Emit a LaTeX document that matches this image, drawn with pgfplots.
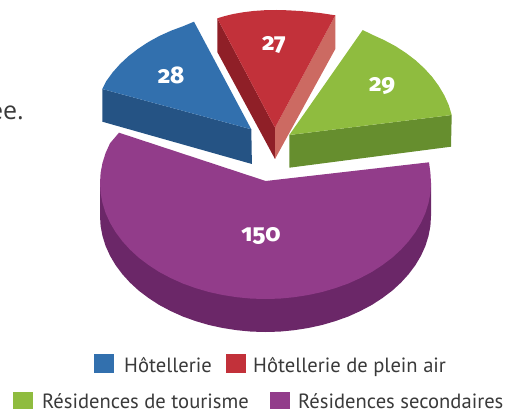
\documentclass[border=0pt]{standalone}
\usepackage{pgfplots}
\pgfplotsset{compat=1.18}
\usepackage{fontspec}
\setmainfont{PT Sans}
\newfontfamily\numfont[Numbers=OldStyle]{Fira Sans ExtraBold}
\newfontfamily\introfont{Open Sans}
\definecolor{blueT}{HTML}{3270AE}
\definecolor{blueD}{HTML}{255384}
\definecolor{redT}{HTML}{C2313A}
\definecolor{redD}{HTML}{8F1F27}
\definecolor{redL}{HTML}{CC6A62}
\definecolor{greenT}{HTML}{8FBC3F}
\definecolor{greenD}{HTML}{668E2E}
\definecolor{purpT}{HTML}{923C8A}
\definecolor{purpD}{HTML}{6B2768}
\definecolor{txt}{HTML}{3A3A3A}
\begin{document}
\begin{tikzpicture}
\useasboundingbox (0,0) rectangle (509pt,409pt);
\begin{axis}[at={(0,0)},anchor=south west,scale only axis,width=509pt,height=409pt,
  xmin=0,xmax=509,ymin=0,ymax=409,y dir=reverse,hide axis,clip=false]
% purple side
\addplot[fill=purpD,draw=none] coordinates {(100,183)(100,216)(100.6,226.1)(102.5,236)(105.6,246)(110,255.7)(115.5,265)(122.2,274)(129.9,282.5)(138.7,290.6)(148.5,298)(159.1,304.9)(170.6,311)(182.8,316.5)(195.6,321.1)(208.9,325)(222.7,328)(236.8,330.2)(251.1,331.6)(265.5,332)(279.9,331.6)(294.2,330.2)(308.3,328)(322.1,325)(335.4,321.1)(348.3,316.5)(360.4,311)(371.9,304.9)(382.5,298)(392.3,290.6)(401.1,282.5)(408.8,274)(415.5,265)(421,255.7)(425.4,246)(428.5,236)(430.4,226.1)(431,216)(431,183)} -- cycle;
% purple top
\addplot[fill=purpT,draw=none] coordinates {(265.7,181)(119,132.7)(110,143.3)(105.6,153)(102.5,162.9)(100.6,172.9)(100,183)(100.6,193.1)(102.5,203)(105.6,213)(110,222.7)(115.5,232)(122.2,241)(129.9,249.5)(138.7,257.6)(148.5,265)(159.1,271.9)(170.6,278)(182.8,283.5)(195.6,288.1)(208.9,292)(222.7,295)(236.8,297.2)(251.1,298.6)(265.5,299)(279.9,298.6)(294.2,297.2)(308.3,295)(322.1,292)(335.4,288.1)(348.3,283.5)(360.4,278)(371.9,271.9)(382.5,265)(392.3,257.6)(401.1,249.5)(408.8,241)(415.5,232)(421,222.7)(425.4,213)(428.5,203)(430.4,193.1)(431,183)(430.4,172.9)(429,162.3)} -- cycle;
% blue
\addplot[fill=blueD,draw=none] coordinates {(102.3,89)(251.3,129.3)(251.9,164)(102.3,121.7)} -- cycle;
\addplot[fill=blueT,draw=none] coordinates {(251.3,129.3)(102.3,89)(106.3,81.1)(112.7,72.3)(120.2,63.9)(128.7,56)(138.2,48.7)(148.4,42)(159.5,35.9)(171.3,30.6)(183.7,26)(194,21.7)} -- cycle;
% red
\addplot[fill=redD,draw=none] coordinates {(217.3,18.3)(275,127.7)(275,159)(217.3,52)} -- cycle;
\addplot[fill=redL,draw=none] coordinates {(335.3,15.3)(335.3,49)(275,159)(275,127.7)} -- cycle;
\addplot[fill=redT,draw=none] coordinates {(275,127.7)(217.3,18.3)(225,16)(233.3,14)(243,12.3)(253.3,11)(265,10.2)(276.7,10)(288,10.3)(300,11)(310,11.9)(320,13)(335.3,15.3)} -- cycle;
% green
\addplot[fill=greenD,draw=none] coordinates {(289.3,135)(451.7,115)(451,146.7)(289.3,167.7)} -- cycle;
\addplot[fill=greenT,draw=none] coordinates {(289.3,135)(362.7,30)(371.8,34.5)(383.9,40)(395.4,46.1)(406,53)(415.7,60.4)(424.5,68.5)(432.2,77)(438.8,86)(444.3,95.3)(448.7,105)(451.7,115)} -- cycle;
% value labels
\addplot[only marks,mark size=0pt,point meta=explicit symbolic,
  nodes near coords,nodes near coords style={anchor=center,text=white,font=\numfont\fontsize{24}{24}\selectfont}]
  table[meta=v] {
x y v
171 75 28
274 45 27
382 86 29
261 236 150
};
% legend keys
\addplot[fill=blueT,draw=none] coordinates {(94,354)(114,354)(114,373)(94,373)} -- cycle;
\addplot[fill=redT,draw=none] coordinates {(226,354)(246,354)(246,373)(226,373)} -- cycle;
\addplot[fill=greenT,draw=none] coordinates {(13,392)(33,392)(33,409)(13,409)} -- cycle;
\addplot[fill=purpT,draw=none] coordinates {(270,392)(290,392)(290,409)(270,409)} -- cycle;
\end{axis}
\begin{scope}
\clip (0,0) rectangle (509pt,409pt);
\begin{scope}[font=\fontsize{20.6}{20.6}\selectfont,text=txt]
\node[anchor=base west,inner sep=0] at (124pt,36pt) {Hôtellerie};
\node[anchor=base west,inner sep=0] at (253pt,36pt) {Hôtellerie de plein air};
\node[anchor=base west,inner sep=0] at (42pt,0.6pt) {Résidences de tourisme};
\node[anchor=base west,inner sep=0] at (298pt,0.6pt) {Résidences secondaires};
\end{scope}
\node[anchor=base east,inner sep=0,text=txt,font=\introfont\fontsize{25}{25}\selectfont] at (24pt,289pt) {ée.};
\end{scope}
\end{tikzpicture}
\end{document}
